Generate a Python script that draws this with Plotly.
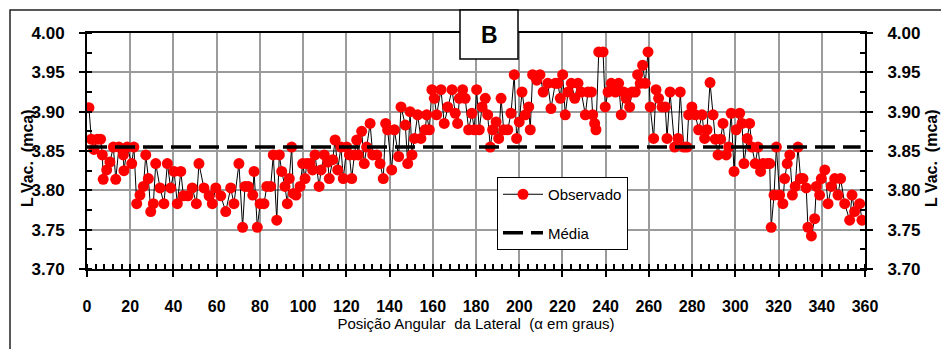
import plotly.graph_objects as go

# Posição angular (graus) e comprimento de vácuo medido (mca)
ANGULOS = [
    0.9, 2.0, 3.2, 4.8, 6.3, 7.1, 7.5, 9.1, 10.6, 12.2, 13.3, 14.8, 16.8, 17.1, 18.6,
    20.7, 21.7, 23.0, 24.5, 26.1, 27.2, 28.4, 29.5, 30.7, 31.8, 33.8, 35.6, 37.2, 38.7,
    40.3, 41.8, 43.4, 44.6, 46.7, 48.7, 50.6, 51.8, 54.1, 56.5, 58.0, 59.6, 61.9, 64.2,
    66.5, 68.0, 70.3,
    72.0, 73.1, 74.6, 76.7, 77.3, 78.8, 80.1, 81.9, 83.2, 85.0, 86.2, 87.8, 89.0, 90.1,
    91.6, 92.7, 93.6, 94.7, 95.5, 96.7, 98.6, 99.8, 100.9, 101.7, 103.2, 104.4, 105.5,
    107.4, 108.3, 109.8, 111.4, 112.1, 113.7, 114.8, 116.0, 117.5, 118.6, 120.2, 121.4,
    122.5, 123.7, 124.8, 125.5, 127.1, 128.3, 129.4, 131.0, 132.2, 134.1, 135.6, 137.1,
    138.2, 139.1, 141.0, 142.2,
    144.2, 145.3, 147.3, 148.4, 149.5, 150.4, 151.5, 153.0, 154.5, 156.5, 157.2, 158.4,
    159.6, 160.7, 161.8, 163.8, 165.3, 166.9, 168.9, 170.4, 171.5, 172.3, 173.8, 175.0,
    176.6, 178.1, 179.2, 180.3, 181.5, 182.8, 184.3, 185.4, 186.6, 187.7, 189.3, 190.5,
    191.6, 192.8, 194.7, 196.2, 197.7, 198.8, 200.0, 201.3, 202.8, 204.4, 205.1, 206.2,
    208.1, 209.6, 211.1, 213.2, 214.7,
    216.7, 217.9, 219.0, 220.1, 221.3, 222.6, 224.1, 225.7, 227.2, 228.7, 230.6, 231.8,
    233.4, 234.0, 234.9, 235.5, 236.8, 238.8, 239.8, 241.1, 242.6, 244.5, 246.0, 247.2,
    248.3, 249.4, 251.1, 252.2, 253.7, 254.8, 256.0, 257.1, 258.3, 259.6, 260.6, 262.2,
    263.3, 264.5, 266.1, 267.6, 268.4, 269.8, 271.9, 273.5, 274.5, 276.1, 277.6, 278.4,
    279.9, 281.5, 283.0, 284.6, 285.8, 286.9, 288.3,
    289.7, 290.7, 292.0, 293.2, 294.3, 295.8, 296.9, 298.1, 299.4, 300.4, 302.0, 303.1,
    304.0, 305.5, 306.6, 307.7, 309.2, 310.5, 311.7, 312.8, 314.8, 315.9, 316.6, 317.9,
    319.0, 320.5, 322.0, 322.8, 324.0, 325.2, 326.4, 327.7, 329.0, 330.2, 331.3, 332.8,
    333.6, 335.2, 336.7, 337.5, 339.0, 339.8, 341.4, 342.9, 344.4, 346.0, 347.5, 348.7,
    350.6, 352.9, 354.0, 355.2, 357.5, 358.6,
]

L_VAC = [
    3.905, 3.865, 3.852, 3.865, 3.865, 3.845, 3.814, 3.826, 3.836, 3.855, 3.814, 3.855, 3.845, 3.825, 3.855,
    3.834, 3.855, 3.783, 3.794, 3.805, 3.845, 3.815, 3.773, 3.783, 3.834, 3.803, 3.783, 3.834, 3.803,
    3.824, 3.783, 3.824, 3.793, 3.793, 3.803, 3.783, 3.834, 3.803, 3.793, 3.783, 3.803, 3.793, 3.773,
    3.803, 3.783, 3.834,
    3.753, 3.805, 3.805, 3.794, 3.824, 3.753, 3.783, 3.783, 3.805, 3.805, 3.845, 3.762, 3.845, 3.824,
    3.805, 3.783, 3.815, 3.855, 3.796, 3.794, 3.805, 3.834, 3.815, 3.834, 3.834, 3.826, 3.845,
    3.805, 3.826, 3.845, 3.836, 3.815, 3.839, 3.864, 3.826, 3.855, 3.815, 3.855, 3.845,
    3.815, 3.845, 3.864, 3.845, 3.875, 3.834, 3.855, 3.885, 3.845, 3.845, 3.834, 3.815,
    3.885, 3.877, 3.826, 3.877,
    3.843, 3.906, 3.883, 3.834, 3.900, 3.845, 3.866, 3.896, 3.866, 3.877, 3.896, 3.877,
    3.928, 3.917, 3.896, 3.928, 3.885, 3.906, 3.928, 3.898, 3.885, 3.917, 3.928, 3.917,
    3.877, 3.898, 3.877, 3.928, 3.877, 3.906, 3.917, 3.896, 3.855, 3.877, 3.887, 3.866,
    3.917, 3.877, 3.877, 3.898, 3.947, 3.866, 3.887, 3.925, 3.896, 3.906, 3.877, 3.947,
    3.940, 3.947, 3.925, 3.936, 3.904,
    3.936, 3.936, 3.917, 3.947, 3.896, 3.925, 3.936, 3.917, 3.936, 3.925, 3.896, 3.925,
    3.925, 3.896, 3.885, 3.877, 3.976, 3.976, 3.906, 3.925, 3.936, 3.925, 3.936, 3.896,
    3.925, 3.917, 3.906, 3.925, 3.925, 3.947, 3.936, 3.959, 3.936, 3.976, 3.906, 3.866,
    3.928, 3.917, 3.906, 3.906, 3.866, 3.925, 3.855, 3.866, 3.925, 3.855, 3.855, 3.896,
    3.906, 3.896, 3.877, 3.896, 3.866, 3.877, 3.937,
    3.896, 3.865, 3.845, 3.865, 3.885, 3.845, 3.855, 3.898, 3.824, 3.877, 3.898, 3.885,
    3.834, 3.866, 3.885, 3.855, 3.834, 3.855, 3.824, 3.834, 3.834, 3.834, 3.753, 3.794,
    3.855, 3.794, 3.783, 3.815, 3.834, 3.845, 3.794, 3.805, 3.855, 3.815, 3.815, 3.803,
    3.753, 3.742, 3.764, 3.805, 3.794, 3.815, 3.826, 3.783, 3.805, 3.815, 3.794, 3.815,
    3.783, 3.762, 3.794, 3.773, 3.783, 3.762,
]

MEDIA = 3.855
MEDIA_ANGULOS = [0, 358]

X_RANGE = [0, 360]
Y_RANGE = [3.70, 4.00]

Y_TITLE = "L Vac.  (mca)"
X_TITLE = "Posição Angular  da Lateral  (α em graus)"

# Page geometry (pixels)
W, H = 941, 349
ML, MR, MT, MB = 87, 76, 33, 80
PW, PH = W - ML - MR, H - MT - MB


def px(x):
    return (x - ML) / PW


def py(y):
    return (H - MB - y) / PH


FONT = "Liberation Sans Narrow, Arial Narrow, Liberation Sans, Arial, sans-serif"
GRID = "#9b9b9b"

fig = go.Figure()

fig.add_trace(go.Scatter(
    x=ANGULOS, y=L_VAC, mode="lines+markers", name="Observado",
    line=dict(color="black", width=1),
    marker=dict(color="#ff0000", size=11, line=dict(width=0)),
    legendgroup="obs",
))
fig.add_trace(go.Scatter(
    x=MEDIA_ANGULOS, y=[MEDIA, MEDIA], mode="lines", name="Média",
    line=dict(color="black", width=3.5, dash="20px,8px"),
    legendgroup="med",
))
# right-hand copy of the vertical scale
fig.add_trace(go.Scatter(x=[None], y=[None], yaxis="y2", showlegend=False, hoverinfo="skip"))

axis_common = dict(
    showline=True, linecolor="black", linewidth=2,
    ticks="outside", ticklen=6, tickwidth=1.5, tickcolor="black",
    showgrid=True, gridcolor=GRID, gridwidth=1.5, zeroline=False,
)

fig.update_layout(
    width=W, height=H,
    margin=dict(l=ML, r=MR, t=MT, b=MB, pad=0),
    paper_bgcolor="white", plot_bgcolor="white",
    font=dict(family=FONT, color="black"),
    showlegend=True,
    legend=dict(
        x=px(497), y=py(177), xanchor="left", yanchor="top",
        bgcolor="white", bordercolor="black", borderwidth=1,
        font=dict(family=FONT, size=15, color="black"),
        traceorder="grouped", tracegroupgap=16, itemwidth=40,
    ),
    xaxis=dict(
        range=X_RANGE, tick0=0, dtick=20, mirror=True,
        minor=dict(dtick=4, ticks="inside", ticklen=5, tickwidth=1.5, tickcolor="black", showgrid=False),
        tickfont=dict(family=FONT, size=16, weight="bold"),
        ticklabelstandoff=16,
        title=dict(text=X_TITLE, font=dict(family=FONT, size=15), standoff=3),
        **axis_common,
    ),
    yaxis=dict(
        range=Y_RANGE, tick0=3.70, dtick=0.05, tickformat=".2f",
        minor=dict(dtick=0.025, ticks="inside", ticklen=5, tickwidth=1.5, tickcolor="black", showgrid=False),
        tickfont=dict(family=FONT, size=17, weight="bold"),
        ticklabelstandoff=11,
        **axis_common,
    ),
    yaxis2=dict(
        range=Y_RANGE, tick0=3.70, dtick=0.05, tickformat=".2f", overlaying="y", side="right",
        showline=True, linecolor="black", linewidth=2,
        ticks="outside", ticklen=6, tickwidth=1.5, tickcolor="black",
        showgrid=False, zeroline=False,
        minor=dict(dtick=0.025, ticks="inside", ticklen=5, tickwidth=1.5, tickcolor="black", showgrid=False),
        tickfont=dict(family=FONT, size=17, weight="bold"),
        ticklabelstandoff=11,
    ),
    shapes=[
        # outer frame
        dict(type="rect", xref="paper", yref="paper", x0=px(10), x1=px(960), y0=py(370), y1=py(10),
             line=dict(color="#222", width=1.5), fillcolor="rgba(0,0,0,0)", layer="below"),
        # panel label box
        dict(type="rect", xref="paper", yref="paper", x0=px(460), x1=px(518), y0=py(59), y1=py(10),
             line=dict(color="black", width=1.5), fillcolor="white", layer="above"),
    ],
    annotations=[
        dict(text="<b>B</b>", xref="paper", yref="paper", x=px(489), y=py(35),
             showarrow=False, font=dict(family="Liberation Sans, Arial", size=23, color="black"),
             xanchor="center", yanchor="middle"),
        # vertical-axis titles on both sides
        dict(text=f"<b>{Y_TITLE}</b>", xref="paper", yref="paper", x=px(27), y=py(158),
             showarrow=False, textangle=-90, xanchor="center", yanchor="middle",
             font=dict(family=FONT, size=16, color="black")),
        dict(text=f"<b>{Y_TITLE}</b>", xref="paper", yref="paper", x=px(931), y=py(158),
             showarrow=False, textangle=-90, xanchor="center", yanchor="middle",
             font=dict(family=FONT, size=16, color="black")),
    ],
)

fig.write_html("out.html")
